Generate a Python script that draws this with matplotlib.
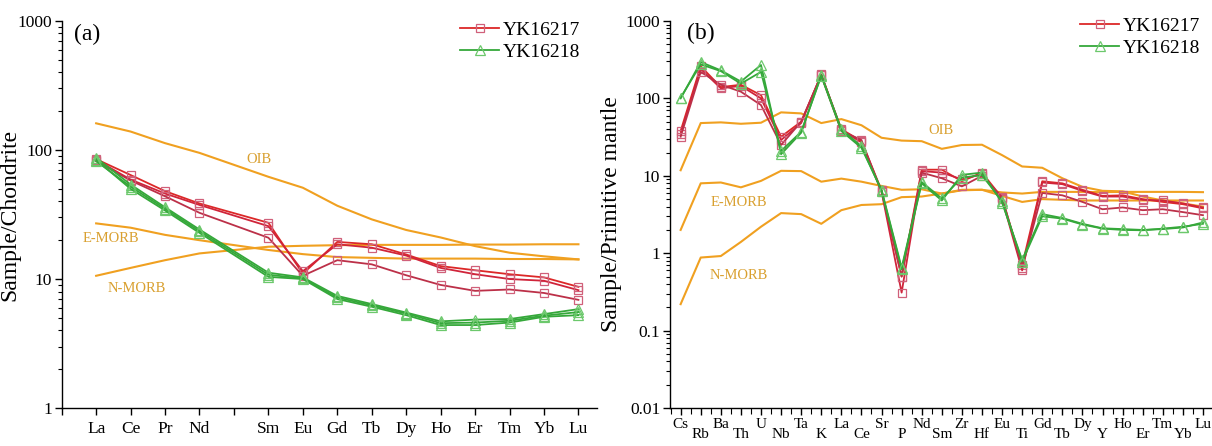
import matplotlib
matplotlib.use('Agg')
import matplotlib.pyplot as plt
import numpy as np
from matplotlib.ticker import FixedLocator, LogLocator, NullFormatter

# --- datos: panel (a) REE normalizado a condrita ---
ree = ['La', 'Ce', 'Pr', 'Nd', '', 'Sm', 'Eu', 'Gd', 'Tb', 'Dy', 'Ho', 'Er', 'Tm', 'Yb', 'Lu']

oib_c   = [161, 139, 113, 95, 62, 51, 37, 29, 24, 21, 18, 16, 15, 14.2]
emorb_c = [27, 25, 22, 20, 16.8, 15.6, 14.8, 14.6, 14.4, 14.4, 14.4, 14.3, 14.3, 14.2]
nmorb_c = [10.6, 12.2, 14, 15.8, 17.8, 18.1, 18.3, 18.4, 18.4, 18.4, 18.5, 18.5, 18.6, 18.6]

yk17_c = [
    [85, 64, 48, 38.5, 27.3, 11.0, 19.4, 18.6, 15.5, 12.6, 11.7, 10.9, 10.3, 8.7],
    [84, 59, 46, 37.5, 25.7, 11.5, 18.6, 17.5, 15.2, 12.2, 10.9, 10.0, 9.7, 8.2],
    [82, 58, 43.8, 32.6, 20.9, 10.6, 14.0, 13.0, 10.7, 9.0, 8.1, 8.3, 7.8, 6.9],
]
yk18_c = [
    [87, 54, 36, 24.2, 11.2, 10.3, 7.4, 6.4, 5.5, 4.7, 4.85, 4.9, 5.35, 5.85],
    [84, 50, 34, 22.8, 10.4, 10.0, 7.0, 6.1, 5.25, 4.4, 4.4, 4.6, 5.1, 5.25],
    [82, 52, 35, 23.5, 10.8, 10.1, 7.2, 6.25, 5.4, 4.55, 4.6, 4.75, 5.2, 5.55],
]

# --- datos: panel (b) multielementos normalizado a manto primitivo ---
spider = ['Cs', 'Rb', 'Ba', 'Th', 'U', 'Nb', 'Ta', 'K', 'La', 'Ce', 'Sr', 'P', 'Nd', 'Sm',
          'Zr', 'Hf', 'Eu', 'Ti', 'Gd', 'Tb', 'Dy', 'Y', 'Ho', 'Er', 'Tm', 'Yb', 'Lu']

oib_p   = [11.8, 48, 49, 47, 48.5, 66, 64, 48, 54, 45, 31, 28.5, 28, 22.3, 25, 25.2,
           18.5, 13.2, 12.7, 9.3, 7.2, 6.4, 6.3, 5.4, 4.8, 4.4, 4.0]
emorb_p = [2.0, 8.0, 8.2, 7.1, 8.6, 11.6, 11.5, 8.4, 9.2, 8.4, 7.4, 6.6, 6.7, 5.9, 6.5, 6.6,
           5.5, 4.6, 5.0, 4.9, 4.8, 4.8, 4.8, 4.8, 4.8, 4.8, 4.8]
nmorb_p = [0.22, 0.88, 0.92, 1.4, 2.2, 3.3, 3.2, 2.4, 3.6, 4.2, 4.3, 5.3, 5.4, 5.9, 6.6, 6.6,
           6.1, 5.9, 6.2, 6.2, 6.2, 6.15, 6.2, 6.2, 6.2, 6.2, 6.15]

yk17_p = [
    [38, 260, 140, 150, 110, 32, 50, 200, 40, 28, 6.5, 0.5, 12, 12, 8.5, 11, 5.2, 0.7,
     8.5, 8.0, 6.6, 5.5, 5.6, 5.0, 4.6, 4.3, 3.8],
    [35, 240, 135, 145, 100, 29, 48, 205, 39, 27, 6.3, 0.31, 11.5, 11, 9, 10.5, 5.0, 0.6,
     8.2, 7.8, 6.4, 5.4, 5.4, 4.9, 4.8, 4.4, 3.9],
    [32, 220, 150, 122, 82, 25, 50, 200, 38, 29, 6.2, 0.5, 11, 9.3, 7.3, 10, 5.3, 0.65,
     6.0, 5.6, 4.6, 3.7, 3.9, 3.6, 3.7, 3.4, 3.1],
]
yk18_p = [
    [100, 295, 230, 165, 270, 19, 36, 200, 40, 24, 6.4, 0.62, 8.0, 4.8, 10.3, 11, 4.5, 0.82,
     3.2, 2.85, 2.4, 2.1, 2.05, 2.0, 2.05, 2.15, 2.5],
    [102, 275, 225, 155, 220, 21, 37, 195, 38, 23, 6.6, 0.65, 8.3, 5.1, 9.5, 10.2, 4.7, 0.78,
     3.0, 2.8, 2.35, 2.08, 2.0, 1.98, 2.08, 2.2, 2.4],
]

# --- estilos ---
NARANJA = '#f0a020'
TXT_REF = '#d9a030'
ROJOS   = ['#dc2828', '#d0243a', '#bc3048']
VERDE   = '#35a83a'
SERIF   = 'Liberation Serif'

plt.rcParams['font.family'] = SERIF

fig = plt.figure(figsize=(12.12, 4.46), dpi=100)
ax1 = fig.add_axes([0.0509, 0.0850, 0.4420, 0.868])
ax2 = fig.add_axes([0.5528, 0.0850, 0.4472, 0.868])


def estilo_eje(ax):
    ax.set_yscale('log')
    for s in ['top', 'right']:
        ax.spines[s].set_visible(False)
    for s in ['left', 'bottom']:
        ax.spines[s].set_linewidth(1.0)
    ax.tick_params(axis='both', which='major', direction='out', length=5, width=1,
                   labelsize=12.5, pad=2)
    ax.tick_params(axis='both', which='minor', direction='out', length=3, width=0.8)
    ax.yaxis.set_minor_locator(LogLocator(base=10, subs=np.arange(2, 10)))
    ax.yaxis.set_minor_formatter(NullFormatter())


def muestras(ax, x, rojas, verdes):
    for i, serie in enumerate(rojas):
        ax.plot(x, serie, color=ROJOS[i % 3], lw=1.3, marker='s', ms=6,
                mfc='none', mec='#d0607a', mew=0.9,
                label='YK16217' if i == 0 else None, zorder=4)
    for i, serie in enumerate(verdes):
        ax.plot(x, serie, color=VERDE, lw=1.3, marker='^', ms=6.5,
                mfc='none', mec='#6cc86c', mew=0.9,
                label='YK16218' if i == 0 else None, zorder=5)


# ---------------- panel (a) ----------------
xa = [i for i, e in enumerate(ree, 1) if e]
estilo_eje(ax1)
for ref in [oib_c, emorb_c, nmorb_c]:
    ax1.plot(xa, ref, color=NARANJA, lw=1.5, zorder=2)
muestras(ax1, xa, yk17_c, yk18_c)

ax1.set_xlim(0, 15.55)
ax1.set_ylim(1, 1000)
ax1.set_xticks(range(0, 16))
ax1.set_xticklabels([''] + ree)
ax1.tick_params(axis='x', which='major', pad=4)
ax1.set_yticks([1, 10, 100, 1000])
ax1.set_yticklabels(['1', '10', '100', '1000'])
ax1.set_ylabel('Sample/Chondrite', fontsize=17)
ax1.yaxis.set_label_coords(-0.078, 0.5)

ax1.text(5.72, 84, 'OIB', color=TXT_REF, fontsize=10.5, ha='center', va='center')
ax1.text(1.44, 20.5, 'E-MORB', color=TXT_REF, fontsize=10.5, ha='center', va='center')
ax1.text(2.17, 8.4, 'N-MORB', color=TXT_REF, fontsize=10.5, ha='center', va='center')
ax1.text(0.35, 780, '(a)', fontsize=17, ha='left', va='center')

ax1.legend(loc='upper right', bbox_to_anchor=(0.99, 1.03), frameon=False, fontsize=14,
           handlelength=2.0, handletextpad=0.2, labelspacing=0.25, borderaxespad=0.2)

# ---------------- panel (b) ----------------
xb = list(range(1, len(spider) + 1))
estilo_eje(ax2)
for ref in [oib_p, emorb_p, nmorb_p]:
    ax2.plot(xb, ref, color=NARANJA, lw=1.5, zorder=2)
muestras(ax2, xb, yk17_p, yk18_p)

ax2.set_xlim(0.47, 27.45)
ax2.set_ylim(0.01, 1000)
ax2.set_xticks(xb)
ax2.set_xticklabels([e if i % 2 == 0 else '\n' + e for i, e in enumerate(spider)],
                    fontsize=11, linespacing=0.75)
ax2.xaxis.set_minor_locator(FixedLocator(np.arange(0.5, 27.5, 1.0)))
ax2.tick_params(axis='x', which='minor', length=4)
ax2.tick_params(axis='x', which='major', pad=2)
ax2.set_yticks([0.01, 0.1, 1, 10, 100, 1000])
ax2.set_yticklabels(['0.01', '0.1', '1', '10', '100', '1000'])
ax2.set_ylabel('Sample/Primitive mantle', fontsize=17)
ax2.yaxis.set_label_coords(-0.088, 0.5)

ax2.text(13.98, 39, 'OIB', color=TXT_REF, fontsize=10.5, ha='center', va='center')
ax2.text(3.88, 4.5, 'E-MORB', color=TXT_REF, fontsize=10.5, ha='center', va='center')
ax2.text(3.88, 0.52, 'N-MORB', color=TXT_REF, fontsize=10.5, ha='center', va='center')
ax2.text(1.3, 690, '(b)', fontsize=17, ha='left', va='center')

ax2.legend(loc='upper right', bbox_to_anchor=(1.0, 1.04), frameon=False, fontsize=14,
           handlelength=2.0, handletextpad=0.2, labelspacing=0.25, borderaxespad=0.2)

fig.savefig('out.png', dpi=100, facecolor='white')
plt.close(fig)
